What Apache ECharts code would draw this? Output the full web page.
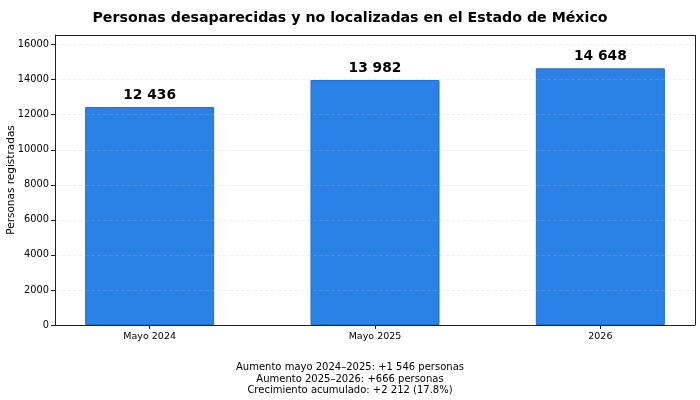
<!DOCTYPE html>
<html>
<head>
<meta charset="UTF-8">
<title>Personas desaparecidas</title>
<script src="https://cdn.jsdelivr.net/npm/echarts@6/dist/echarts.min.js"></script>
<style>
  html, body { margin: 0; padding: 0; background: #fff; }
  #chart { width: 700px; height: 400px; }
</style>
</head>
<body>
<div id="chart"></div>
<script>
var categories = ['Mayo 2024', 'Mayo 2025', '2026'];
var values = [12436, 13982, 14648];
var yTicks = [0, 2000, 4000, 6000, 8000, 10000, 12000, 14000, 16000];
var notes = [
  'Aumento mayo 2024–2025: +1 546 personas',
  'Aumento 2025–2026: +666 personas',
  'Crecimiento acumulado: +2 212 (17.8%)'
];

var font = 'DejaVu Sans';

function fmt(v) {
  // separador de miles con espacio
  return String(v).replace(/\B(?=(\d{3})+(?!\d))/g, ' ');
}

var chart = echarts.init(document.getElementById('chart'));

var option = {
  animation: false,
  textStyle: { fontFamily: font },
  title: {
    text: 'Personas desaparecidas y no localizadas en el Estado de México',
    left: 'center',
    top: 6,
    textStyle: { fontFamily: font, fontSize: 14.2, fontWeight: 'bold', color: '#000' }
  },
  graphic: [{
    type: 'text',
    x: 350,
    y: 362,
    style: {
      text: notes.join('\n'),
      align: 'center',
      verticalAlign: 'top',
      fontFamily: font, fontSize: 10, fill: '#000', lineHeight: 11.5
    }
  }],
  grid: { left: 55, right: 5, top: 35, bottom: 75, outerBoundsMode: 'none', containLabel: false },
  xAxis: {
    type: 'value',
    min: -0.42,
    max: 2.42,
    splitLine: { show: false },
    axisLine: { show: true, onZero: false, lineStyle: { color: '#222', width: 1 } },
    axisTick: { show: true, customValues: [0, 1, 2], length: 4, lineStyle: { color: '#222' } },
    axisLabel: {
      customValues: [0, 1, 2],
      formatter: function (v) { return categories[Math.round(v)]; },
      fontFamily: font, fontSize: 9.5, color: '#000', margin: 7
    }
  },
  yAxis: {
    type: 'value',
    min: 0,
    max: 16550,
    name: 'Personas registradas',
    nameLocation: 'middle',
    nameGap: 38,
    nameMoveOverlap: false,
    nameTextStyle: { fontFamily: font, fontSize: 10.5, color: '#000' },
    axisLine: { show: true, onZero: false, lineStyle: { color: '#222', width: 1 } },
    axisTick: { show: true, customValues: yTicks, length: 4, lineStyle: { color: '#222' } },
    axisLabel: {
      customValues: yTicks,
      formatter: function (v) { return String(v); },
      fontFamily: font, fontSize: 9.8, color: '#000', margin: 6
    },
    splitLine: { show: true, lineStyle: { color: 'rgba(190,190,190,0.25)', type: 'dashed', width: 1 } }
  },
  series: [{
    type: 'bar',
    data: values.map(function (v, i) { return [i, v]; }),
    barWidth: 129,
    z: -1,
    itemStyle: { color: '#2a82e6', borderColor: '#1f6fcc', borderWidth: 1 },
    label: {
      show: true,
      position: 'top',
      distance: 5,
      formatter: function (p) { return fmt(p.value[1]); },
      fontFamily: font, fontSize: 13.8, fontWeight: 'bold', color: '#000'
    }
  }, {
    // marco superior y derecho del área del gráfico
    type: 'line',
    data: [],
    markLine: {
      silent: true,
      symbol: 'none',
      label: { show: false },
      lineStyle: { color: '#222', width: 1, type: 'solid' },
      data: [
        [{ coord: [-0.42, 16550] }, { coord: [2.42, 16550] }],
        [{ coord: [2.42, 0] }, { coord: [2.42, 16550] }]
      ]
    }
  }]
};

chart.setOption(option);
</script>
</body>
</html>
